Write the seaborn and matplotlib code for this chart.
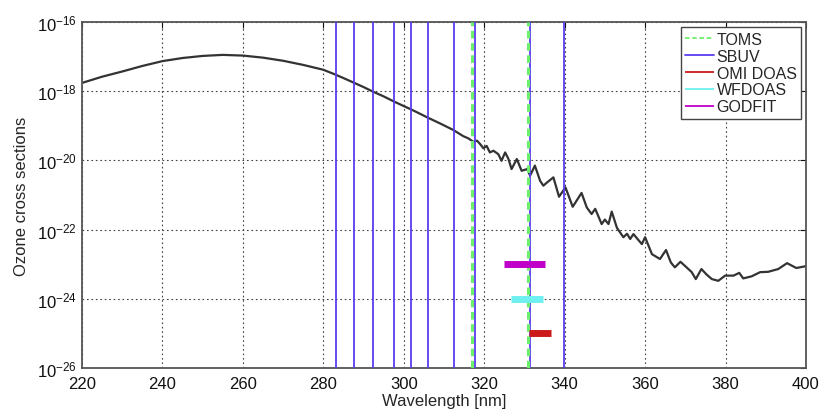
import numpy as np
import pandas as pd
import matplotlib
matplotlib.use("Agg")
import matplotlib.pyplot as plt
import seaborn as sns

# ozone cross section (wavelength nm, log10 of cross section)
wl = [220, 225, 230, 235, 240, 245, 250, 255, 260, 265, 270, 275, 280, 283.0,
      285, 287.7, 290, 292.3, 295, 297.6, 300, 301.9, 304, 305.9, 309.0, 312.3,
      314.8, 316.0, 317.3, 318.2, 319.0, 319.8, 320.6, 321.4, 322.3, 323.5, 324.3,
      325.2, 326.0, 326.8, 328.1, 329.3, 330.7, 331.4, 332.6, 333.9, 334.7,
      335.8, 337.2, 338.6, 340.2, 342.0, 344.2, 345.5, 346.7, 347.6, 349.2, 350.0,
      350.9, 351.7, 353.0, 354.6, 355.5, 356.3, 357.1, 359.2, 360.0, 361.7,
      363.7, 365.2, 366.4, 367.4, 368.8, 370.3, 371.6, 372.6, 374.0, 375.3,
      376.6, 378.2, 379.9, 382.0, 383.4, 384.4, 386.5, 388.6, 390.6, 393.1,
      395.3, 397.6, 399.8]
log_sigma = [-17.76, -17.58, -17.43, -17.27, -17.13, -17.04, -16.98, -16.95,
             -16.97, -17.03, -17.12, -17.24, -17.38, -17.52, -17.62, -17.76,
             -17.88, -18.01, -18.15, -18.30, -18.43, -18.53, -18.65, -18.76,
             -18.93, -19.12, -19.30, -19.36, -19.46, -19.43, -19.53, -19.65,
             -19.58, -19.77, -19.72, -19.82, -20.01, -19.77, -19.95, -20.25,
             -19.96, -20.30, -20.25, -20.44, -20.15, -20.59, -20.73, -20.62,
             -20.49, -21.05, -20.78, -21.34, -20.94, -21.36, -21.55, -21.40,
             -21.84, -21.71, -21.84, -21.48, -21.95, -22.22, -22.12, -22.27,
             -22.13, -22.42, -22.22, -22.71, -22.85, -22.59, -22.95, -23.09,
             -22.93, -23.09, -23.23, -23.43, -23.14, -23.30, -23.43, -23.48,
             -23.33, -23.33, -23.25, -23.41, -23.35, -23.23, -23.22, -23.14,
             -22.97, -23.11, -23.06]

toms_wl = [317.0, 330.9]
sbuv_wl = [283.1, 287.7, 292.3, 297.6, 301.9, 305.9, 312.6, 317.6, 331.3, 339.9]

# fitting windows: start, end, cross section level
win_names = ["OMI DOAS", "WFDOAS", "GODFIT"]
win_start = [331.1, 326.6, 325.0]
win_end = [336.6, 334.5, 335.0]
win_level = [1e-25, 1e-24, 1e-23]
win_colors = ["#cc1a1a", "#6ff0f0", "#c000c8"]

sns.set_style("white")
plt.rcParams["font.family"] = ["Liberation Sans", "DejaVu Sans"]

fig = plt.figure(figsize=(8.22, 4.14), dpi=100)
ax = fig.add_axes([0.0998, 0.1087, 0.8807, 0.8357])

df = pd.DataFrame({"wl": wl, "sigma": 10.0 ** np.array(log_sigma)})
sns.lineplot(data=df, x="wl", y="sigma", ax=ax, color="#333333", lw=1.6,
             zorder=2)

for i, w in enumerate(sbuv_wl):
    ax.axvline(w, color="#5a3cf0", lw=1.3, zorder=3,
               label="SBUV" if i == 0 else None)
for i, w in enumerate(toms_wl):
    ax.axvline(w, color="#6cf06c", lw=2.2, ls=(0, (2.5, 1.5)), zorder=4,
               label="TOMS" if i == 0 else None)
for name, s, e, lev, c in zip(win_names, win_start, win_end, win_level, win_colors):
    ax.hlines(lev, s, e, color=c, lw=5, zorder=5, label=name)

ax.set_yscale("log")
ax.set_xlim(220, 400)
ax.set_ylim(1e-26, 1e-16)
ax.set_xticks(np.arange(220, 401, 20))
ax.set_yticks([1e-26, 1e-24, 1e-22, 1e-20, 1e-18, 1e-16])
ax.yaxis.set_minor_locator(matplotlib.ticker.NullLocator())
ax.grid(True, ls=(0, (1.5, 2.5)), color="#444444", lw=0.8)
ax.tick_params(direction="in", top=True, right=True, length=4,
               labelsize=12, colors="#111111")
ax.tick_params(axis="x", pad=6)
for sp in ax.spines.values():
    sp.set_color("#555555")
    sp.set_linewidth(1.3)
ax.set_xlabel("Wavelength [nm]", fontsize=12, labelpad=1)
ax.set_ylabel("Ozone cross sections", fontsize=12, labelpad=6)

h, l = ax.get_legend_handles_labels()
order = ["TOMS", "SBUV", "OMI DOAS", "WFDOAS", "GODFIT"]
hd = dict(zip(l, h))
leg = ax.legend([hd[k] for k in order], order, loc="upper right",
                bbox_to_anchor=(0.998, 0.995),
                fontsize=11.5, frameon=True, fancybox=False, framealpha=1,
                edgecolor="#444444", handlelength=1.8, handletextpad=0.15,
                borderpad=0.3, labelspacing=0.12, borderaxespad=0.2)
for lh in leg.get_lines():
    lh.set_linewidth(1.3)

fig.savefig("out.png", dpi=100)
